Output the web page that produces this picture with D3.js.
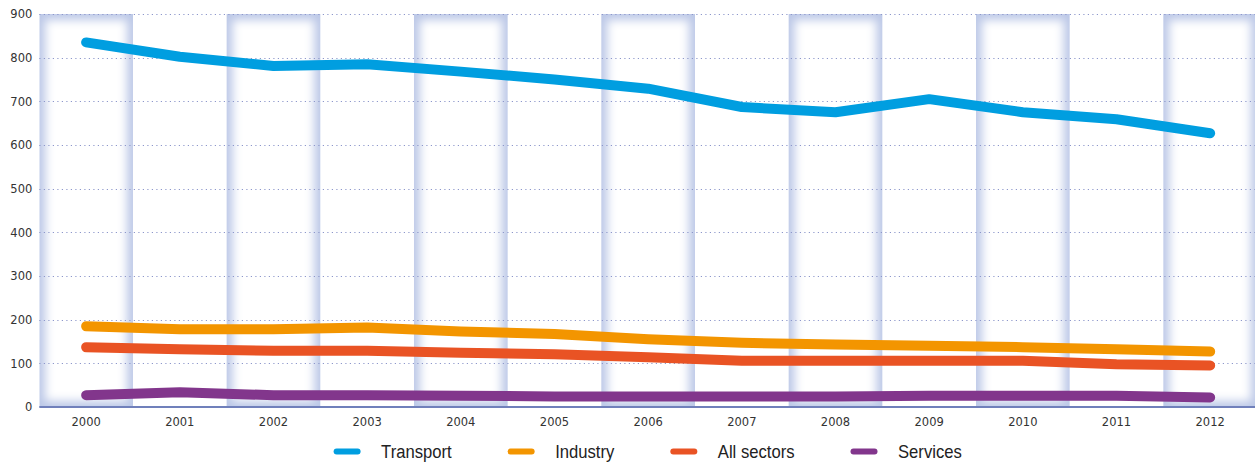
<!DOCTYPE html>
<html>
<head>
<meta charset="utf-8">
<script src="https://cdn.jsdelivr.net/npm/d3@7"></script>
<style>
  html, body { margin: 0; padding: 0; background: #fff; }
  svg { display: block; }
</style>
</head>
<body>
<svg id="chart" width="1257" height="463"></svg>
<script>
const years = ["2000","2001","2002","2003","2004","2005","2006","2007","2008","2009","2010","2011","2012"];
const transport  = [835, 802, 781, 785, 768, 750, 729, 687, 675, 705, 675, 659, 627];
const industry   = [185, 178, 178, 182, 173, 167, 155, 147, 143, 140, 137, 132, 127];
const allSectors = [137, 132, 129, 129, 124, 121, 114, 106, 106, 106, 106, 98, 95];
const services   = [27, 34, 27, 27, 26, 24, 24, 24, 24, 26, 26, 26, 22];
const seriesNames = ["Transport", "Industry", "All sectors", "Services"];
const yTicks = [0, 100, 200, 300, 400, 500, 600, 700, 800, 900];

const seriesValues = [transport, industry, allSectors, services];
const colors = ["#009ee0", "#f39500", "#e95324", "#82368c"];

const svg = d3.select("#chart");
const mLeft = 39.3, mRight = 1255, bandRight = 1257, mTop = 14, mBottom = 407;

const x = d3.scaleBand().domain(years).range([mLeft, bandRight]).padding(0);
const y = d3.scaleLinear().domain([0, 900]).range([mBottom, mTop]);

const defs = svg.append("defs");
const f = defs.append("filter").attr("id", "soft")
  .attr("x", "-20%").attr("y", "-20%").attr("width", "140%").attr("height", "140%");
f.append("feGaussianBlur").attr("stdDeviation", 5);
defs.append("clipPath").attr("id", "plotclip").append("rect")
  .attr("x", mLeft).attr("y", mTop).attr("width", mRight - mLeft).attr("height", mBottom - mTop);

// Alternating shaded bands
const bandG = svg.append("g").attr("clip-path", "url(#plotclip)");
const evenYears = years.filter((d, i) => i % 2 === 0);
bandG.selectAll("rect.band").data(evenYears).join("rect")
  .attr("class", "band")
  .attr("x", d => x(d)).attr("y", mTop)
  .attr("width", x.bandwidth()).attr("height", mBottom - mTop)
  .attr("fill", "#bcc8e7");
bandG.selectAll("rect.inner").data(evenYears).join("rect")
  .attr("class", "inner")
  .attr("x", d => x(d) + 6).attr("y", mTop + 6)
  .attr("width", x.bandwidth() - 12).attr("height", mBottom - mTop - 12)
  .attr("fill", "#ffffff")
  .attr("filter", "url(#soft)");

// Grid lines
svg.append("g").selectAll("line").data(yTicks.filter(d => d > 0)).join("line")
  .attr("x1", mLeft).attr("x2", mRight)
  .attr("y1", d => Math.round(y(d)) + 0.5).attr("y2", d => Math.round(y(d)) + 0.5)
  .attr("stroke", "#8d97cb")
  .attr("stroke-width", 1)
  .attr("stroke-dasharray", "1.2,3.3");

// Baseline
svg.append("line")
  .attr("x1", mLeft).attr("x2", mRight)
  .attr("y1", y(0)).attr("y2", y(0))
  .attr("stroke", "#7080bb").attr("stroke-width", 2);

// Y axis labels
const yAxis = d3.axisLeft(y).tickValues(yTicks).tickSize(0).tickPadding(0);
const yg = svg.append("g").attr("transform", `translate(${mLeft - 7},0)`).call(yAxis);
yg.select(".domain").remove();
yg.selectAll("text")
  .attr("font-family", "DejaVu Sans, sans-serif")
  .attr("font-size", "11.5px")
  .attr("fill", "#333");

// X axis labels
const xAxis = d3.axisBottom(x).tickSize(0).tickPadding(0);
const xg = svg.append("g").attr("transform", `translate(0,${mBottom + 11})`).call(xAxis);
xg.select(".domain").remove();
xg.selectAll("text")
  .attr("font-family", "DejaVu Sans, sans-serif")
  .attr("font-size", "11.5px")
  .attr("fill", "#333");

// Lines
const line = d3.line()
  .x((d, i) => x(years[i]) + x.bandwidth() / 2)
  .y(d => y(d));
svg.append("g").selectAll("path").data(seriesValues).join("path")
  .attr("d", d => line(d))
  .attr("fill", "none")
  .attr("stroke", (d, i) => colors[i])
  .attr("stroke-width", 10)
  .attr("stroke-linecap", "round")
  .attr("stroke-linejoin", "round");

// Legend
const lg = svg.append("g");
let cx = 333.6;
const ly = 451.5;
const squeeze = 0.9;
seriesNames.forEach((name, i) => {
  lg.append("line")
    .attr("x1", cx + 3).attr("x2", cx + 24)
    .attr("y1", ly).attr("y2", ly)
    .attr("stroke", colors[i]).attr("stroke-width", 6)
    .attr("stroke-linecap", "round");
  const t = lg.append("text")
    .attr("transform", `translate(${cx + 47.5},${ly + 6}) scale(${squeeze},1)`)
    .attr("font-family", "Liberation Sans, Arial, sans-serif")
    .attr("font-size", "18.5px")
    .attr("fill", "#222")
    .text(name);
  const w = t.node().getComputedTextLength() * squeeze;
  cx = cx + 47.5 + w + 56;
});
</script>
</body>
</html>
